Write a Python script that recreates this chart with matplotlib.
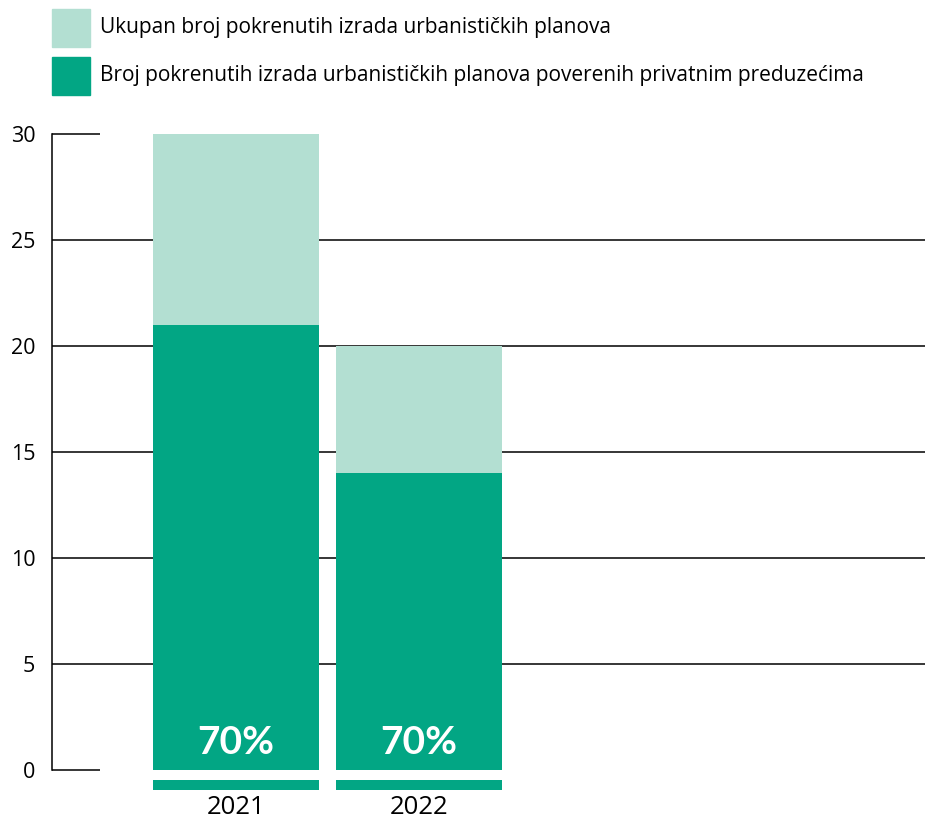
import matplotlib.pyplot as plt
from matplotlib.patches import Rectangle

# data
years = ['2021', '2022']
ukupno = [30, 20]        # ukupan broj pokrenutih izrada
privatni = [21, 14]      # povereno privatnim preduzecima
legend_labels = ['Ukupan broj pokrenutih izrada urbanističkih planova',
                 'Broj pokrenutih izrada urbanističkih planova poverenih privatnim preduzećima']
yticks = [0, 5, 10, 15, 20, 25, 30]

light = '#b3dfd2'
dark = '#02a684'
plt.rcParams['font.family'] = ['Open Sans', 'DejaVu Sans']

W, H = 925, 821
fig = plt.figure(figsize=(W / 100, H / 100), dpi=100)
ax = fig.add_axes([52 / W, (H - 770) / H, 1 - 52 / W, (770 - 134) / H])

x = list(range(len(years)))
bw = 0.907
xmin, xmax = -1.005, 3.765
ax.set_xlim(xmin, xmax)
ax.set_ylim(0, 30)

# gridlines (top and bottom ones are short)
short = xmin + 48 / 183
for t in yticks:
    end = short if t in (0, 30) else xmax
    ax.hlines(t, xmin, end, color='black', lw=1.1, zorder=1, clip_on=False)

ax.bar(x, ukupno, width=bw, color=light, zorder=2)
ax.bar(x, privatni, width=bw, color=dark, zorder=3)

# thin strip under each bar
ax.bar(x, 0.47, bottom=-0.94, width=bw, color=dark, clip_on=False, zorder=3)

for xi, p, u in zip(x, privatni, ukupno):
    ax.text(xi, 1.3, f'{round(100 * p / u)}%', ha='center', va='center',
            color='white', fontsize=28, fontweight='bold', family=['Lato'], zorder=4)
    ax.text(xi, -1.75, years[xi], ha='center', va='center', fontsize=18.5)

for s in ['top', 'right', 'bottom']:
    ax.spines[s].set_visible(False)
ax.spines['left'].set_linewidth(1.1)
ax.set_xticks([])
ax.set_yticks(yticks)
ax.tick_params(axis='y', length=0, pad=12, labelsize=15.5)

# legend drawn by hand
for i, (lab, col) in enumerate(zip(legend_labels, [light, dark])):
    top = 9 + 48 * i
    fig.add_artist(Rectangle((52 / W, 1 - (top + 38) / H), 38 / W, 38 / H,
                             transform=fig.transFigure, color=col))
    fig.text(100 / W, 1 - (top + 19) / H, lab, va='center', ha='left', fontsize=15)

fig.savefig('out.png', dpi=100)
